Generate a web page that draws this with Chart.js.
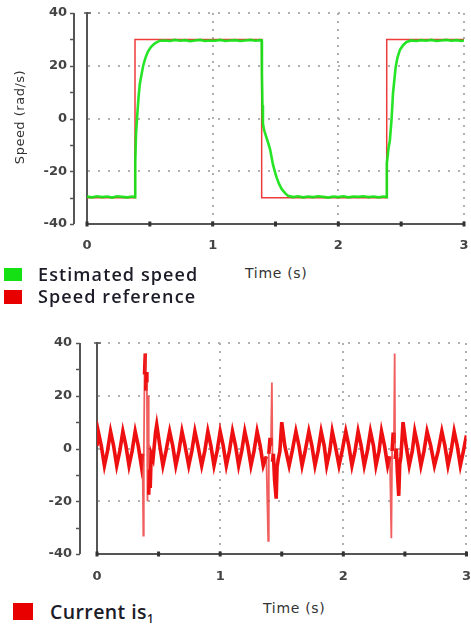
<!DOCTYPE html>
<html>
<head>
<meta charset="utf-8">
<script src="https://cdn.jsdelivr.net/npm/chart.js@4.4.0/dist/chart.umd.min.js"></script>
<style>
  body { margin: 0; background: #fff; }
  #page { position: relative; width: 471px; height: 625px; overflow: hidden; background: #fff; }
  canvas { position: absolute; left: 0; }
  .txt { position: absolute; white-space: nowrap; line-height: 1; }
  .axisTitle { font-family: 'DejaVu Sans', sans-serif; font-size: 14px; letter-spacing: 0.7px; color: #333; }
  .legend { font-family: 'Open Sans', sans-serif; font-weight: 600; color: #1c1c28; }
  .swatch { position: absolute; }
</style>
</head>
<body>
<div id="page">
  <canvas id="speedChart" width="471" height="260" style="top:0"></canvas>
  <canvas id="currentChart" width="471" height="270" style="top:320px"></canvas>

  <div class="txt axisTitle" style="left:19px; top:117px; font-size:13px; letter-spacing:0.5px; transform:translate(-50%,-50%) rotate(-90deg);">Speed (rad/s)</div>
  <div class="txt axisTitle" style="left:245px; top:266px;">Time (s)</div>
  <div class="txt axisTitle" style="left:263px; top:601px;">Time (s)</div>

  <div class="swatch" style="left:4px; top:268px; width:18px; height:13px; background:#14e014;"></div>
  <div class="txt legend" style="left:38px; top:265px; font-size:18px; letter-spacing:1.1px;">Estimated speed</div>
  <div class="swatch" style="left:4px; top:290px; width:18px; height:14px; background:#e80000;"></div>
  <div class="txt legend" style="left:38px; top:287px; font-size:18px; letter-spacing:1.1px;">Speed reference</div>

  <div class="swatch" style="left:13px; top:603px; width:20px; height:17px; background:#e80000;"></div>
  <div class="txt legend" style="left:50px; top:602px; font-size:19.5px; letter-spacing:0.4px;">Current is<sub style="font-size:0.6em; vertical-align:-0.3em;">1</sub></div>
</div>

<script>
// tick labels
const timeLabels = [0, 1, 2, 3];
const valueLabels = [-40, -20, 0, 20, 40];

// speed reference (rad/s) vs time (s)
const speedReference = [
  [0, -30], [0.382, -30], [0.382, 30], [1.39, 30], [1.39, -30], [2.385, -30], [2.385, 30], [3, 30]
];

// estimated speed (rad/s) vs time (s)
const estimatedSpeed = [
  [0, -29.6], [0.04, -29.9], [0.08, -29.5], [0.12, -29.8], [0.16, -29.6], [0.20, -30.0],
  [0.24, -29.5], [0.28, -29.7], [0.32, -29.9], [0.36, -29.6], [0.382, -29.8],
  [0.384, -17], [0.39, -6], [0.398, 0], [0.41, 8], [0.42, 13], [0.435, 17], [0.447, 20],
  [0.465, 23], [0.486, 25.5], [0.51, 27.2], [0.54, 28.5], [0.58, 29.5],
  [0.62, 29.6], [0.66, 29.4], [0.70, 29.8], [0.74, 29.5], [0.78, 29.7], [0.82, 29.3],
  [0.86, 29.6], [0.90, 29.8], [0.94, 29.4], [0.98, 29.6], [1.02, 29.5], [1.06, 29.8],
  [1.10, 29.4], [1.14, 29.6], [1.18, 29.7], [1.22, 29.4], [1.26, 29.6], [1.30, 29.8],
  [1.34, 29.5], [1.38, 29.7], [1.39, 29.6],
  [1.392, 17], [1.396, 5], [1.40, -2], [1.41, -4.5], [1.42, -6], [1.44, -9], [1.456, -11.5],
  [1.47, -15], [1.48, -17.5], [1.50, -21], [1.51, -22.5], [1.53, -25], [1.55, -26.8],
  [1.58, -28.5], [1.60, -29.3], [1.64, -29.8],
  [1.68, -29.5], [1.72, -29.9], [1.76, -29.6], [1.80, -29.8], [1.84, -29.5], [1.88, -29.7],
  [1.92, -30.0], [1.96, -29.6], [2.00, -29.8], [2.04, -29.5], [2.08, -29.9], [2.12, -29.6],
  [2.16, -29.7], [2.20, -29.5], [2.24, -29.8], [2.28, -29.6], [2.32, -29.9], [2.36, -29.6],
  [2.384, -29.8],
  [2.386, -17], [2.40, -11], [2.41, -8.4], [2.424, 0], [2.435, 9.5], [2.456, 19.4],
  [2.47, 23], [2.49, 26], [2.515, 27.8], [2.543, 29], [2.58, 29.6],
  [2.62, 29.4], [2.66, 29.7], [2.70, 29.5], [2.74, 29.8], [2.78, 29.4], [2.82, 29.6],
  [2.86, 29.8], [2.90, 29.5], [2.94, 29.7], [2.98, 29.4], [3.0, 29.6]
];

// phase current is1 vs time (s)
const currentIs1 = [
  [0, 1], [0.01, 6.5], [0.035, 1], [0.06, -6.5], [0.085, -1], [0.11, 6.5], [0.135, 1],
  [0.16, -6.5], [0.185, -1], [0.21, 6.5], [0.235, 1], [0.26, -6.5], [0.285, -1],
  [0.31, 6.5], [0.335, 1], [0.36, -6.5],
  [0.37, -2], [0.376, -33], [0.38, -4], [0.386, 28], [0.392, 36], [0.396, 22], [0.40, 29],
  [0.405, 25], [0.41, -20], [0.415, 20], [0.42, -17.5], [0.426, -8], [0.432, -15],
  [0.44, -2], [0.455, -4], [0.475, 6], [0.485, 9],
  [0.51, 1], [0.535, -6.5], [0.56, -1], [0.59, 6.5], [0.615, 1], [0.64, -6.5], [0.665, -1],
  [0.69, 6.5], [0.715, 1], [0.745, -6.5], [0.77, -1], [0.795, 6.5], [0.82, 1], [0.85, -6.5],
  [0.875, -1], [0.90, 6.5], [0.925, 1], [0.95, -6.5], [0.975, -1], [1.00, 6.5], [1.025, 1],
  [1.05, -6.5], [1.075, -1], [1.10, 6.5], [1.125, 1], [1.15, -6.5], [1.175, -1], [1.20, 6.5],
  [1.225, 1], [1.25, -6.5], [1.275, -1], [1.30, 6.5], [1.325, 1], [1.35, -6.5],
  [1.375, -3], [1.39, -35], [1.395, -2], [1.405, 4], [1.412, 1], [1.42, 25], [1.425, -5],
  [1.432, -2], [1.442, -12], [1.455, -19], [1.462, -7], [1.472, -4], [1.485, -1], [1.50, 10],
  [1.525, 1], [1.56, -6.5], [1.585, -1], [1.615, 6.5], [1.64, 1], [1.665, -6.5], [1.69, -1],
  [1.72, 6.5], [1.745, 1], [1.77, -6.5], [1.795, -1], [1.82, 6.5], [1.845, 1], [1.865, -6.5],
  [1.89, -1], [1.91, 6.5], [1.935, 1], [1.965, -6.5], [1.99, -1], [2.02, 6.5], [2.045, 1],
  [2.07, -6.5], [2.095, -1], [2.12, 6.5], [2.145, 1], [2.17, -6.5], [2.195, -1], [2.22, 6.5],
  [2.245, 1], [2.265, -6.5], [2.29, -1], [2.31, 6.5], [2.335, 1], [2.36, -6.5],
  [2.378, -3], [2.39, -34], [2.396, -1], [2.405, 6], [2.411, 2], [2.417, 36], [2.421, -4],
  [2.43, 0], [2.44, -10], [2.45, -18], [2.458, -6], [2.468, -3], [2.485, 10],
  [2.51, 1], [2.535, -6.5], [2.56, -1], [2.58, 6.5], [2.605, 1], [2.63, -6.5], [2.655, -1],
  [2.68, 6.5], [2.71, 1], [2.74, -6.5], [2.77, -1], [2.80, 6.5], [2.825, 1], [2.85, -6.5],
  [2.875, -1], [2.90, 6.5], [2.925, 1], [2.95, -6.5], [2.975, -1], [3.00, 5]
];

const toPoints = arr => arr.map(([x, y]) => ({ x, y }));

const tickFont = { family: 'DejaVu Sans', weight: 'bold', size: 13 };
const gridGray = '#b0b0b0';
const axisDark = '#555';

// separate y bracket line, cap on the t=0 line, dots along the time axis
const axisDeco = {
  id: 'axisDeco',
  afterDraw(chart, args, opts) {
    const { ctx, chartArea: a, scales: { x, y } } = chart;
    const bx = a.left - opts.gap;
    ctx.save();
    ctx.strokeStyle = axisDark;
    ctx.lineWidth = 2;
    ctx.beginPath();
    ctx.moveTo(bx, a.top);
    ctx.lineTo(bx, a.bottom);
    ctx.stroke();
    ctx.lineWidth = 1.5;
    y.ticks.forEach(t => {
      const py = Math.round(y.getPixelForValue(t.value)) + 0.5;
      ctx.beginPath();
      ctx.moveTo(bx - 4, py);
      ctx.lineTo(bx, py);
      ctx.stroke();
    });
    ctx.beginPath();
    ctx.moveTo(a.left - 3, a.top);
    ctx.lineTo(a.left + 4, a.top);
    ctx.stroke();
    ctx.fillStyle = '#333';
    x.ticks.forEach(t => {
      const px = x.getPixelForValue(t.value);
      ctx.fillRect(px - 1.5, a.bottom - 2.5, 3, 5);
    });
    ctx.restore();
  }
};

// label gaps are done with invisible tick marks: ticks.padding would also pad the plot area
function makeScales(yWidth, yGap, xHeight, xGap) {
  return {
    x: {
      type: 'linear', min: 0, max: 3,
      afterFit: s => { s.height = xHeight; },
      afterBuildTicks: s => { s.ticks = [0, 0.5, 1, 1.5, 2, 2.5, 3].map(v => ({ value: v })); },
      ticks: {
        padding: 0, maxRotation: 0, autoSkip: false, color: '#444', font: tickFont,
        callback: v => timeLabels.includes(v) ? String(v) : ''
      },
      grid: {
        drawTicks: true, tickLength: xGap, tickColor: 'transparent', lineWidth: 2,
        color: c => (c.tick && timeLabels.includes(c.tick.value) && c.tick.value > 0) ? gridGray : 'transparent'
      },
      border: { display: true, color: axisDark, width: 2, dash: [2, 6] }
    },
    y: {
      min: -40, max: 40,
      afterFit: s => { s.width = yWidth; },
      ticks: {
        stepSize: 10, padding: 0, color: '#444', font: tickFont,
        callback: v => valueLabels.includes(v) ? String(v) : ''
      },
      grid: {
        drawTicks: true, tickLength: yGap, tickColor: 'transparent', lineWidth: 2,
        color: c => (c.tick && valueLabels.includes(c.tick.value) && c.tick.value > -40) ? gridGray : 'transparent'
      },
      border: { display: true, color: axisDark, width: 2, dash: [2, 8] }
    }
  };
}

new Chart(document.getElementById('speedChart'), {
  type: 'line',
  data: {
    datasets: [
      {
        label: 'Estimated speed',
        data: toPoints(estimatedSpeed),
        borderColor: 'rgba(20, 226, 20, 0.92)',
        borderWidth: 2.6,
        pointRadius: 0,
        tension: 0,
        order: 0
      },
      {
        label: 'Speed reference',
        data: toPoints(speedReference),
        borderColor: '#ee3b3b',
        borderWidth: 1.5,
        pointRadius: 0,
        tension: 0,
        order: 1
      }
    ]
  },
  options: {
    responsive: false,
    animation: false,
    layout: { padding: { top: 13, right: 7, left: 0, bottom: 0 } },
    plugins: { legend: { display: false }, tooltip: { enabled: false }, axisDeco: { gap: 13 } },
    scales: makeScales(87, 20, 36, 14)
  },
  plugins: [axisDeco]
});

new Chart(document.getElementById('currentChart'), {
  type: 'line',
  data: {
    datasets: [
      {
        label: 'Current is1',
        data: toPoints(currentIs1),
        borderColor: '#ee1010',
        borderWidth: 3.6,
        pointRadius: 0,
        tension: 0,
        segment: {
          borderWidth: c => Math.abs(c.p1.parsed.y - c.p0.parsed.y) > 13 ? 1.8 : 3.6,
          borderColor: c => Math.abs(c.p1.parsed.y - c.p0.parsed.y) > 13 ? 'rgba(236, 40, 40, 0.75)' : '#ee1010'
        }
      }
    ]
  },
  options: {
    responsive: false,
    animation: false,
    layout: { padding: { top: 23, right: 4, left: 0, bottom: 0 } },
    plugins: { legend: { display: false }, tooltip: { enabled: false }, axisDeco: { gap: 17 } },
    scales: makeScales(97, 25, 36, 15)
  },
  plugins: [axisDeco]
});
</script>
</body>
</html>
